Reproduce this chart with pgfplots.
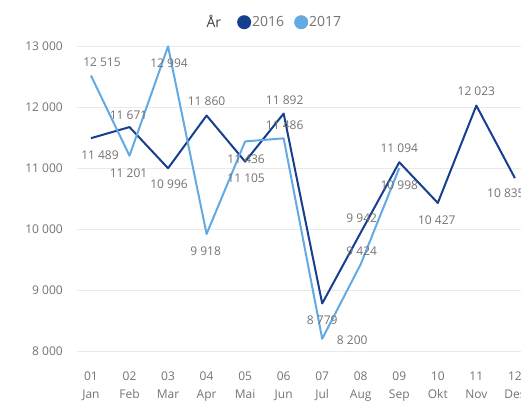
\documentclass[border=0pt]{standalone}
\usepackage{fontspec}
\setmainfont{Open Sans}
\usepackage{pgfplots}
\pgfplotsset{compat=1.18}
\usepackage{pgfplotstable}
\definecolor{c2016}{HTML}{173F8F}
\definecolor{c2017}{HTML}{63A9E2}
\definecolor{lbl}{HTML}{737373}
\definecolor{ttl}{HTML}{404040}
\definecolor{gridc}{HTML}{EAEAEA}

\pgfplotstableread{
x y dx dy
1 11489 9 -17
2 11671 -1 12
3 10996 1 -16
4 11860 0 14.5
5 11105 1 -16.5
6 11892 1 13.6
7 8779 0 -16.5
8 9942 1 14.5
9 11094 0 14
10 10427 -1 -17
11 12023 0 14.6
12 10835 -9 -15
}\tA

\pgfplotstableread{
x y dx dy
1 12515 11 13.6
2 11201 -1 -17
3 12994 1 -16.6
4 9918 -1 -17
5 11436 1 -17.6
6 11486 1 13.4
7 8200 30 -1
8 9424 1 13
9 10998 0 -17
}\tB

\pgfkeys{/pgf/number format/.cd, 1000 sep={\ }, assume math mode=true}

\begin{document}
\begin{tikzpicture}[x=1pt,y=1pt]
\useasboundingbox (0,0) rectangle (521,401);
\clip (0,0) rectangle (521,401);
\begin{axis}[
  at={(77pt,50pt)}, anchor=south west,
  scale only axis, width=461pt, height=305pt,
  xmin=0.6372, xmax=12.6, ymin=8000, ymax=13000,
  clip=false,
  axis line style={draw=none},
  major tick length=0pt,
  ymajorgrids, grid style={gridc, line width=0.9pt},
  ytick={8000,9000,...,13000},
  scaled y ticks=false,
  yticklabel={\pgfmathprintnumber{\tick}},
  xtick={1,...,12},
  xticklabels={{01\\[4pt]Jan},{02\\[4pt]Feb},{03\\[4pt]Mar},{04\\[4pt]Apr},{05\\[4pt]Mai},{06\\[4pt]Jun},{07\\[4pt]Jul},{08\\[4pt]Aug},{09\\[4pt]Sep},{10\\[4pt]Okt},{11\\[4pt]Nov},{12\\[4pt]Des}},
  xticklabel style={align=center, font=\fontsize{12}{14}\selectfont, text=lbl, anchor=north, inner sep=0pt, yshift=-21pt},
  yticklabel style={font=\fontsize{12}{14}\selectfont, text=lbl, anchor=east, inner sep=0pt, xshift=-14pt},
  legend style={at={(axis description cs:0.272,1.078)}, anchor=west, draw=none, fill=none,
    text=lbl, legend columns=-1,
    /tikz/every even column/.append style={column sep=9pt},
    nodes={inner sep=1pt, font=\fontsize{14}{16}\selectfont}},
  legend image code/.code={\fill[#1] (6pt,0pt) circle (6pt);},
]
\addlegendimage{empty legend}
\addlegendentry{\textcolor{ttl}{År}\rule{6pt}{0pt}}
\addplot[c2016, line width=2pt, line join=round, nodes near coords={\pgfmathprintnumber{\pgfplotspointmeta}},
  point meta=y,
  visualization depends on={\thisrow{dx}\as\ldx},
  visualization depends on={\thisrow{dy}\as\ldy},
  every node near coord/.style={anchor=center, xshift=\ldx pt, yshift=\ldy pt, font=\fontsize{12}{14}\selectfont, text=lbl, inner sep=0pt}]
  table[x=x,y=y] {\tA};
\addlegendentry{2016}
\addplot[c2017, line width=2pt, line join=round, nodes near coords={\pgfmathprintnumber{\pgfplotspointmeta}},
  point meta=y,
  visualization depends on={\thisrow{dx}\as\ldx},
  visualization depends on={\thisrow{dy}\as\ldy},
  every node near coord/.style={anchor=center, xshift=\ldx pt, yshift=\ldy pt, font=\fontsize{12}{14}\selectfont, text=lbl, inner sep=0pt}]
  table[x=x,y=y] {\tB};
\addlegendentry{2017}
\end{axis}
\end{tikzpicture}
\end{document}
